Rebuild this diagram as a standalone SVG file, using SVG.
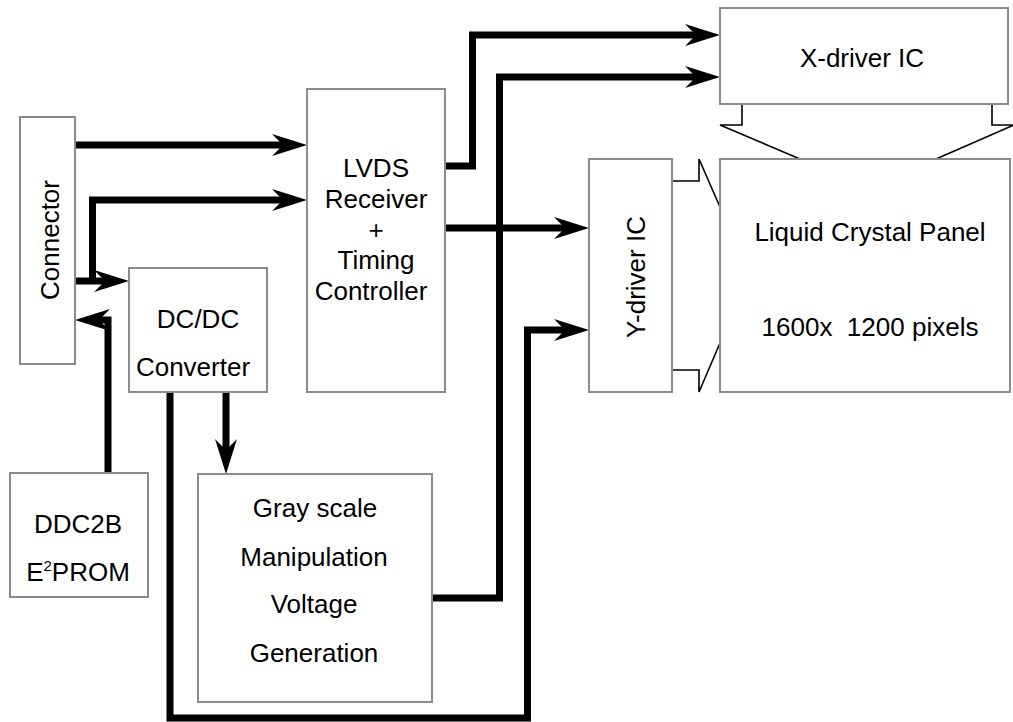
<svg xmlns="http://www.w3.org/2000/svg" width="1013" height="722" viewBox="0 0 1013 722">
<style>
.box{fill:#fff;stroke:#8c8c8c;stroke-width:2}
.t{font-family:"Liberation Sans",Arial,sans-serif;font-size:26px;fill:#000;text-anchor:middle}
.w{fill:none;stroke:#000;stroke-width:7;stroke-linejoin:miter;stroke-linecap:butt}
.thin{fill:none;stroke:#000;stroke-width:1.6;stroke-linejoin:miter}
</style>
<defs>
<marker id="ah" markerUnits="userSpaceOnUse" markerWidth="36" markerHeight="24" viewBox="0 0 36 24" refX="12" refY="12" orient="auto" overflow="visible">
<path d="M0,1 L35,12 L0,23 L11,12 z" fill="#000"/>
</marker>
</defs>
<rect width="1013" height="722" fill="#fff"/>
<g id="connectors">
<path class="w" d="M75,145 H284" marker-end="url(#ah)"/>
<path class="w" d="M92.5,281 V200 H284" marker-end="url(#ah)"/>
<path class="w" d="M75,281 H106" marker-end="url(#ah)"/>
<path class="w" d="M108,473 V320 H98" marker-end="url(#ah)"/>
<path class="w" d="M445,166 H472.5 V35 H697" marker-end="url(#ah)"/>
<path class="w" d="M432,598 H499.5 V77 H697" marker-end="url(#ah)"/>
<path class="w" d="M445,228 H566" marker-end="url(#ah)"/>
<path class="w" d="M170,392 V718 H527.5 V330 H566" marker-end="url(#ah)"/>
<path class="w" d="M226,392 V451" marker-end="url(#ah)"/>
<path class="thin" d="M742,104 V125 H720 L800,159"/>
<path class="thin" d="M992,104 V125 H1014 L936,159"/>
<path class="thin" d="M672,181 H699 V159 L720,207"/>
<path class="thin" d="M672,370 H699 V392 L720,343"/>
</g>
<g id="connector">
<rect class="box" x="20" y="117" width="55" height="247"/>
<text class="t" transform="translate(59,240) rotate(-90)">Connector</text>
</g>
<g id="lvds">
<rect class="box" x="307" y="89" width="138" height="303"/>
<text class="t" x="376" y="177">LVDS</text>
<text class="t" x="376" y="208">Receiver</text>
<text class="t" x="376" y="239">+</text>
<text class="t" x="376" y="269">Timing</text>
<text class="t" x="371" y="300">Controller</text>
</g>
<g id="dcdc">
<rect class="box" x="129" y="268" width="138" height="124"/>
<text class="t" x="198" y="328">DC/DC</text>
<text class="t" x="193" y="376">Converter</text>
</g>
<g id="ddc2b">
<rect class="box" x="10" y="473" width="138" height="124"/>
<text class="t" x="78" y="533">DDC2B</text>
<text class="t" x="78" y="581">E<tspan font-size="15" dy="-10">2</tspan><tspan dy="10">PROM</tspan></text>
</g>
<g id="grayscale">
<rect class="box" x="198" y="474" width="234" height="228"/>
<text class="t" x="315" y="517">Gray scale</text>
<text class="t" x="314" y="566">Manipulation</text>
<text class="t" x="314" y="613">Voltage</text>
<text class="t" x="314" y="662">Generation</text>
</g>
<g id="xdriver">
<rect class="box" x="720" y="8" width="288" height="96"/>
<text class="t" x="862" y="67">X-driver IC</text>
</g>
<g id="ydriver">
<rect class="box" x="589" y="159" width="83" height="233"/>
<text class="t" transform="translate(645,277) rotate(-90)">Y-driver IC</text>
</g>
<g id="panel">
<rect class="box" x="720" y="159" width="290" height="233"/>
<text class="t" x="870" y="241">Liquid Crystal Panel</text>
<text class="t" x="870" y="336" style="white-space:pre" xml:space="preserve">1600x  1200 pixels</text>
</g>
</svg>
